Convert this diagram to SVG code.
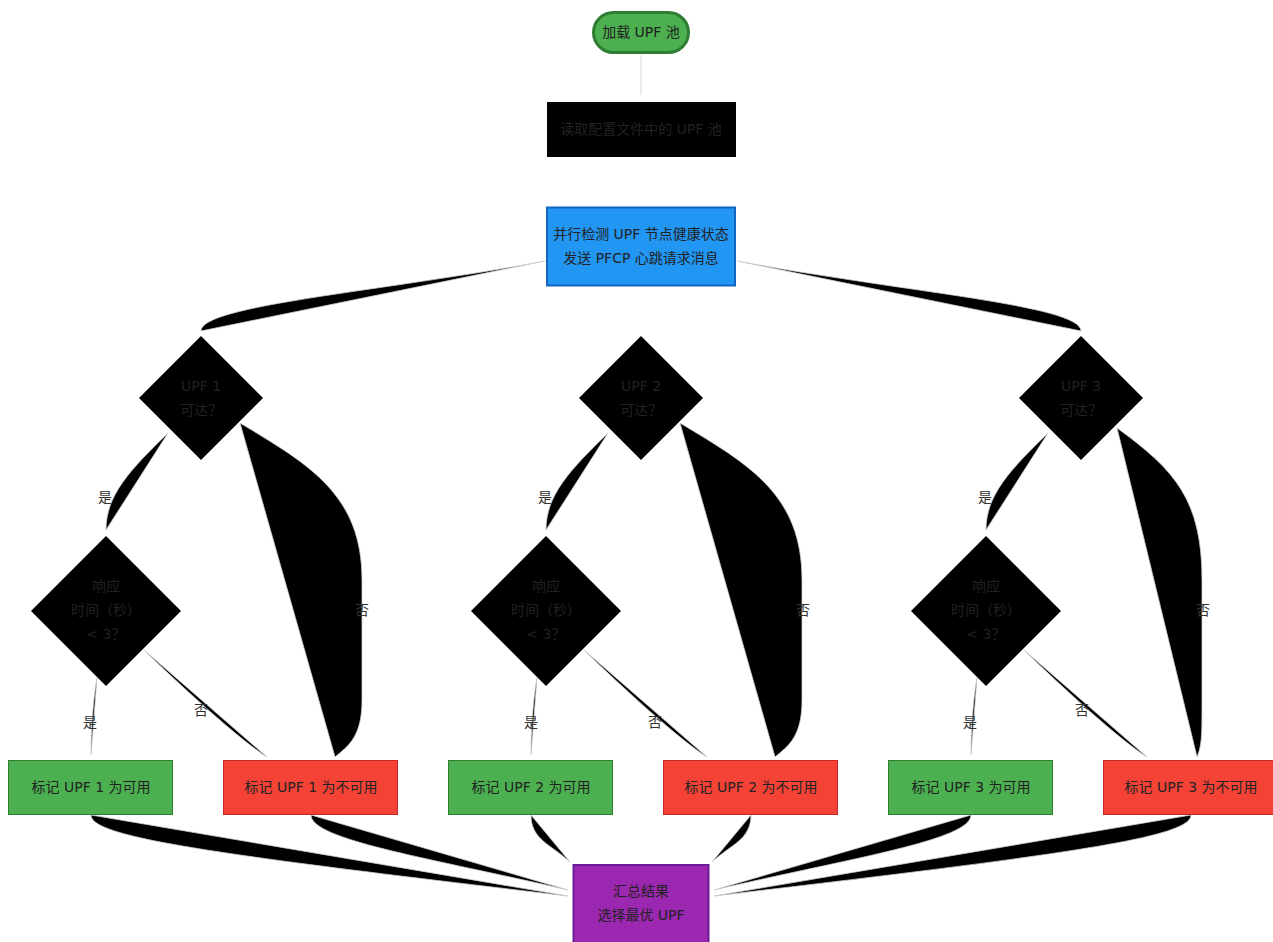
<svg xmlns="http://www.w3.org/2000/svg" width="1273" height="942" viewBox="0 0 1273 942">
<style>
text{font-family:"DejaVu Sans","Noto Sans CJK SC",sans-serif;font-size:14px;fill:#222;text-anchor:middle;dominant-baseline:central}
.edge{fill:#000;stroke:#cfcfcf;stroke-width:0.8}
.lbl{fill:#333}
.ok{fill:#4caf50;stroke:#2e7d32;stroke-width:1}
.bad{fill:#f44336;stroke:#c62828;stroke-width:1}
.dia{fill:#000}
</style>
<rect width="1273" height="942" fill="#fff"/>
<g id="connectors">
<path class="edge" d="M641,55 L641,95"/>
<path class="edge" d="M545,261 C380,292 201,305 201,331 Z"/>
<path class="edge" d="M737,261 C902,292 1081,305 1081,331 Z"/>
<path class="edge" d="M168,433 C130,470 106,495 106,530 Z"/>
<path class="edge" d="M608,433 C570,470 546,495 546,530 Z"/>
<path class="edge" d="M1048,433 C1010,470 986,495 986,530 Z"/>
<path class="edge" d="M240,423 C310,465 362,495 362,580 L362,700 C362,735 350,745 335,757 Z"/>
<path class="edge" d="M680,423 C750,465 802,495 802,580 L802,700 C802,735 790,745 775,757 Z"/>
<path class="edge" d="M1117,428 C1175,470 1202,500 1202,580 L1202,700 C1202,735 1202,745 1197,757 Z"/>
<path class="edge" d="M97,678 C93,700 91,730 91,755 Z"/>
<path class="edge" d="M537,678 C533,700 531,730 531,755 Z"/>
<path class="edge" d="M977,678 C973,700 971,730 971,755 Z"/>
<path class="edge" d="M144,650 C185,690 240,740 267,757 Z"/>
<path class="edge" d="M584,650 C625,690 680,740 707,757 Z"/>
<path class="edge" d="M1024,650 C1065,690 1120,740 1147,757 Z"/>
<path class="edge" d="M91,815 C91,838 220,855 568,896 Z"/>
<path class="edge" d="M311,815 C311,840 430,858 568,890 Z"/>
<path class="edge" d="M531,815 C531,840 552,845 570,862 Z"/>
<path class="edge" d="M751,815 C751,840 730,845 712,862 Z"/>
<path class="edge" d="M971,815 C971,840 852,858 714,890 Z"/>
<path class="edge" d="M1191,815 C1191,838 1062,855 714,896 Z"/>
<text class="lbl" x="105" y="497">是</text>
<text class="lbl" x="362" y="610">否</text>
<text class="lbl" x="90" y="722">是</text>
<text class="lbl" x="201" y="710">否</text>
<text class="lbl" x="545" y="497">是</text>
<text class="lbl" x="803" y="610">否</text>
<text class="lbl" x="531" y="722">是</text>
<text class="lbl" x="655" y="722">否</text>
<text class="lbl" x="985" y="497">是</text>
<text class="lbl" x="1203" y="610">否</text>
<text class="lbl" x="970" y="722">是</text>
<text class="lbl" x="1082" y="710">否</text>
</g>
<g id="start">
<rect x="593.5" y="12.5" width="95" height="40" rx="20" fill="#4caf50" stroke="#2e7d32" stroke-width="3"/>
<text x="641" y="32">加载 UPF 池</text>
</g>
<g id="load">
<rect x="547" y="102" width="189" height="55" fill="#000"/>
<text x="641" y="129">读取配置文件中的 UPF 池</text>
</g>
<g id="probe">
<rect x="547" y="207.5" width="188" height="78" fill="#2196f3" stroke="#1565c0" stroke-width="2"/>
<text x="641" y="234">并行检测 UPF 节点健康状态</text>
<text x="641" y="258">发送 PFCP 心跳请求消息</text>
</g>
<g id="q1">
<polygon class="dia" points="201,336 263,398 201,460 139,398"/>
<text x="201" y="386">UPF 1</text>
<text x="201" y="410">可达？</text>
</g>
<g id="q2">
<polygon class="dia" points="641,336 703,398 641,460 579,398"/>
<text x="641" y="386">UPF 2</text>
<text x="641" y="410">可达？</text>
</g>
<g id="q3">
<polygon class="dia" points="1081,336 1143,398 1081,460 1019,398"/>
<text x="1081" y="386">UPF 3</text>
<text x="1081" y="410">可达？</text>
</g>
<g id="t1">
<polygon class="dia" points="106,536 181,611 106,686 31,611"/>
<text x="106" y="586">响应</text>
<text x="106" y="610">时间（秒）</text>
<text x="106" y="634">&lt; 3？</text>
</g>
<g id="t2">
<polygon class="dia" points="546,536 621,611 546,686 471,611"/>
<text x="546" y="586">响应</text>
<text x="546" y="610">时间（秒）</text>
<text x="546" y="634">&lt; 3？</text>
</g>
<g id="t3">
<polygon class="dia" points="986,536 1061,611 986,686 911,611"/>
<text x="986" y="586">响应</text>
<text x="986" y="610">时间（秒）</text>
<text x="986" y="634">&lt; 3？</text>
</g>
<g id="ok1"><rect class="ok" x="8.5" y="760.5" width="164" height="54"/><text x="91" y="787">标记 UPF 1 为可用</text></g>
<g id="bad1"><rect class="bad" x="223.5" y="760.5" width="174" height="54"/><text x="311" y="787">标记 UPF 1 为不可用</text></g>
<g id="ok2"><rect class="ok" x="448.5" y="760.5" width="164" height="54"/><text x="531" y="787">标记 UPF 2 为可用</text></g>
<g id="bad2"><rect class="bad" x="663.5" y="760.5" width="174" height="54"/><text x="751" y="787">标记 UPF 2 为不可用</text></g>
<g id="ok3"><rect class="ok" x="888.5" y="760.5" width="164" height="54"/><text x="971" y="787">标记 UPF 3 为可用</text></g>
<g id="bad3"><rect class="bad" x="1103.5" y="760.5" width="174" height="54"/><text x="1191" y="787">标记 UPF 3 为不可用</text></g>
<g id="select">
<rect x="573.5" y="865" width="135" height="78" fill="#9c27b0" stroke="#6a1b9a" stroke-width="2"/>
<text x="641" y="891">汇总结果</text>
<text x="641" y="915">选择最优 UPF</text>
</g>
</svg>
